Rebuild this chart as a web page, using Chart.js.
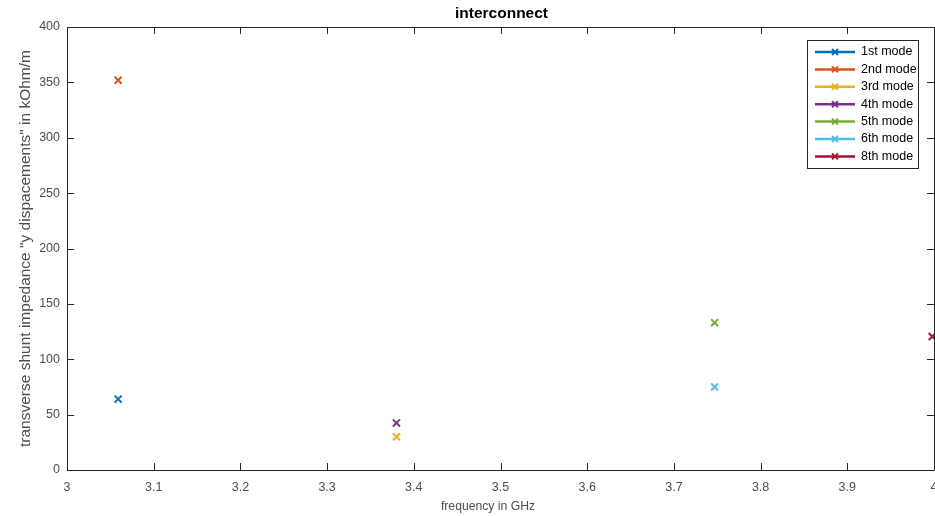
<!DOCTYPE html>
<html>
<head>
<meta charset="utf-8">
<script src="https://cdn.jsdelivr.net/npm/chart.js@4.4.1/dist/chart.umd.min.js"></script>
<style>
  html, body { margin: 0; padding: 0; background: #fff; }
  #wrap { width: 935px; height: 516px; }
</style>
</head>
<body>
<div id="wrap"><canvas id="modesChart" width="935" height="516"></canvas></div>
<script>
// mode labels and their (frequency, impedance) points
const modeNames = ['1st mode', '2nd mode', '3rd mode', '4th mode', '5th mode', '6th mode', '8th mode'];
const freqGHz = [3.059, 3.059, 3.380, 3.380, 3.747, 3.747, 3.998];
const impedance = [64, 352, 30, 42.5, 133, 75, 120.5];
const modeColors = ['#0072BD', '#D95319', '#EDB120', '#7E2F8E', '#77AC30', '#4DBEEE', '#A2142F'];

const xTicks = [3, 3.1, 3.2, 3.3, 3.4, 3.5, 3.6, 3.7, 3.8, 3.9, 4];
const yTicks = [0, 50, 100, 150, 200, 250, 300, 350, 400];

const chartTitle = 'interconnect';
const xTitle = 'frequency in GHz';
const yTitle = 'transverse shunt impedance "y dispacements" in kOhm/m';

const FONT = 'Liberation Sans, Arial, Helvetica, sans-serif';
const axisColor = '#262626';
const labelColor = '#4d4d4d';

const datasets = modeNames.map((name, i) => ({
    label: name,
    data: [{ x: freqGHz[i], y: impedance[i] }],
    borderColor: modeColors[i],
    backgroundColor: modeColors[i],
    pointStyle: 'crossRot',
    pointRadius: 5,
    pointBorderWidth: 2,
    showLine: false
}));

// box + inward ticks on all four sides (matlab style), plus title and x label
const axesBox = {
    id: 'axesBox',
    afterDatasetsDraw(chart) {
        const { ctx, chartArea: a, scales } = chart;
        ctx.save();
        ctx.strokeStyle = axisColor;
        ctx.lineWidth = 1;
        ctx.beginPath();
        ctx.rect(Math.round(a.left) + 0.5, Math.round(a.top) + 0.5, Math.round(a.right - a.left), Math.round(a.bottom - a.top));
        ctx.stroke();
        const len = 7;
        ctx.beginPath();
        xTicks.forEach(v => {
            const px = Math.round(scales.x.getPixelForValue(v)) + 0.5;
            ctx.moveTo(px, a.bottom); ctx.lineTo(px, a.bottom - len);
            ctx.moveTo(px, a.top); ctx.lineTo(px, a.top + len);
        });
        yTicks.forEach(v => {
            const py = Math.round(scales.y.getPixelForValue(v)) + 0.5;
            ctx.moveTo(a.left, py); ctx.lineTo(a.left + len, py);
            ctx.moveTo(a.right, py); ctx.lineTo(a.right - len, py);
        });
        ctx.stroke();

        ctx.textAlign = 'center';
        ctx.textBaseline = 'middle';
        ctx.fillStyle = '#000';
        ctx.font = 'bold 15.5px ' + FONT;
        ctx.fillText(chartTitle, (a.left + a.right) / 2 + 1, 14);
        ctx.fillStyle = labelColor;
        ctx.font = '12.2px ' + FONT;
        ctx.fillText(xTitle, 488, 507);
        ctx.restore();
    }
};

// legend box in the upper right corner
const boxLegend = {
    id: 'boxLegend',
    afterDraw(chart) {
        const { ctx } = chart;
        const x0 = 807, y0 = 40, w = 111, h = 128;
        ctx.save();
        ctx.fillStyle = '#fff';
        ctx.fillRect(x0, y0, w, h);
        ctx.strokeStyle = axisColor;
        ctx.lineWidth = 1;
        ctx.strokeRect(x0 + 0.5, y0 + 0.5, w, h);
        ctx.font = '12.5px ' + FONT;
        ctx.textBaseline = 'middle';
        chart.data.datasets.forEach((ds, i) => {
            const y = 52 + i * 17.4;
            ctx.strokeStyle = ds.borderColor;
            ctx.lineWidth = 2.5;
            ctx.beginPath();
            ctx.moveTo(815, y); ctx.lineTo(855, y);
            ctx.stroke();
            ctx.lineWidth = 2;
            ctx.beginPath();
            ctx.moveTo(832, y - 3); ctx.lineTo(838, y + 3);
            ctx.moveTo(832, y + 3); ctx.lineTo(838, y - 3);
            ctx.stroke();
            ctx.fillStyle = '#000';
            ctx.fillText(ds.label, 861, y);
        });
        ctx.restore();
    }
};

const config = {
    type: 'scatter',
    data: { datasets: datasets },
    options: {
        responsive: false,
        animation: false,
        devicePixelRatio: 1,
        layout: { autoPadding: false, padding: { top: 27, right: 1, left: 0, bottom: 0 } },
        plugins: {
            legend: { display: false },
            tooltip: { enabled: false },
            title: { display: false }
        },
        scales: {
            x: {
                type: 'linear',
                min: 3,
                max: 4,
                afterBuildTicks(scale) { scale.ticks = xTicks.map(v => ({ value: v })); },
                afterFit(scale) {
                    scale.height = 46;
                    scale.paddingLeft = 0;
                    scale.paddingRight = 0;
                },
                grid: { display: false, drawTicks: false },
                border: { display: false },
                ticks: {
                    color: labelColor,
                    padding: 10,
                    maxRotation: 0,
                    autoSkip: false,
                    font: { family: FONT, size: 12.5 },
                    callback: v => String(Number(v.toFixed(1)))
                }
            },
            y: {
                min: 0,
                max: 400,
                afterBuildTicks(scale) { scale.ticks = yTicks.map(v => ({ value: v })); },
                afterFit(scale) {
                    scale.width = 67;
                    scale.paddingTop = 0;
                    scale.paddingBottom = 0;
                },
                grid: { display: false, drawTicks: false },
                border: { display: false },
                ticks: {
                    color: labelColor,
                    padding: 7,
                    autoSkip: false,
                    font: { family: FONT, size: 12.5 }
                },
                title: {
                    display: true,
                    text: yTitle,
                    color: labelColor,
                    font: { family: FONT, size: 15.5 },
                    padding: { top: 16, bottom: 0 }
                }
            }
        }
    },
    plugins: [axesBox, boxLegend]
};

const ctx = document.getElementById('modesChart').getContext('2d');
window.modesChartInstance = new Chart(ctx, config);
</script>
</body>
</html>
